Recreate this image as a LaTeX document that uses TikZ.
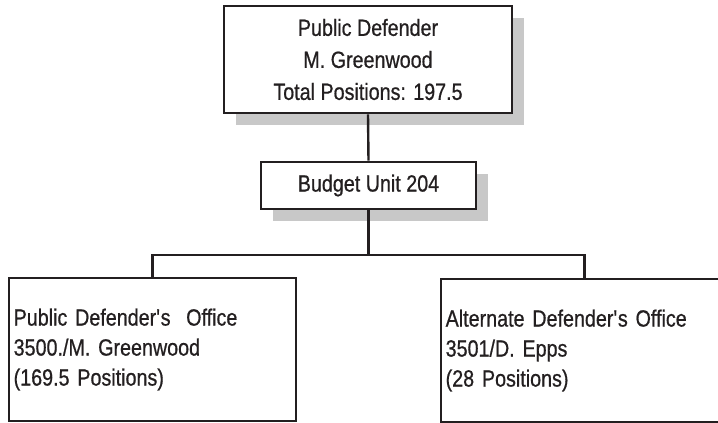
\documentclass[tikz,border=0pt]{standalone}
\usepackage{fontspec}
\setmainfont[FakeStretch=0.84, FakeBold=0.7]{Liberation Sans}
\usetikzlibrary{shadows}
\definecolor{ink}{RGB}{35,31,32}
\definecolor{shade}{RGB}{200,200,200}
\newcommand{\apos}{\textquotesingle}
\begin{document}
\begin{tikzpicture}[x=0.75pt,y=-0.75pt,
  box/.style={rectangle, draw=ink, line width=2.1pt, fill=white, text=ink, inner sep=0pt},
  shadebox/.style={box, drop shadow={shadow xshift=9pt, shadow yshift=-9pt, fill=shade, opacity=1}},
  headtext/.style={align=center, font=\fontsize{17.6}{24}\selectfont},
  unittext/.style={align=left, font=\fontsize{17.6}{22.5}\selectfont, inner xsep=3.5pt,
    minimum width=215.25pt, minimum height=107.25pt, text width=208.25pt},
  link/.style={draw=ink, line width=1.8pt}]
\useasboundingbox (0,0) rectangle (718,422);
\clip (0,0) rectangle (718,422);

% department head and budget unit
\node[shadebox, headtext, minimum width=216pt, minimum height=80.25pt] (head) at (368,59.5)
  {Public Defender\\M. Greenwood\\Total Positions: 197.5};
\node[shadebox, headtext, minimum width=161.25pt, minimum height=35.25pt] (budget) at (368.5,185.5)
  {Budget Unit 204};

% offices
\node[box, unittext] (pdo) at (152.5,349.5)
  {Public Defender\apos s\ \ Office\\3500./M. Greenwood\\(169.5 Positions)};
\node[box, unittext] (ado) at (584.5,350.5)
  {Alternate Defender\apos s Office\\3501/D. Epps\\(28 Positions)};

% reporting lines
\coordinate (bus) at (368.5,255);
\draw[link] (head.south) -- (budget.north);
\draw[link] (budget.south) -- (bus);
\draw[link] (pdo.north) |- (bus) -| (ado.north);
\end{tikzpicture}
\end{document}
